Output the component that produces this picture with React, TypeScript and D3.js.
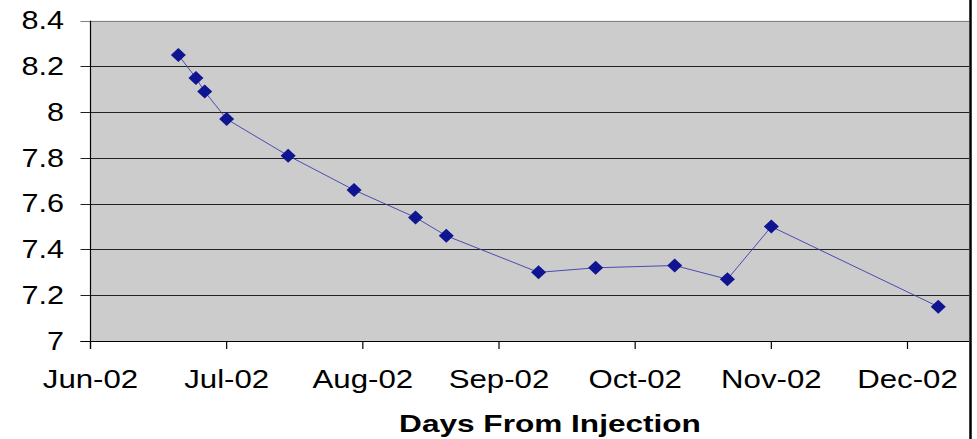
import React from "react";
import * as d3 from "d3";

const sampleDates: string[] = [
  "2002-06-21", "2002-06-25", "2002-06-27", "2002-07-02", "2002-07-16",
  "2002-07-31", "2002-08-14", "2002-08-21", "2002-09-11", "2002-09-24",
  "2002-10-12", "2002-10-24", "2002-11-03", "2002-12-11",
];
const sampleValues: number[] = [
  8.25, 8.15, 8.09, 7.97, 7.81, 7.66, 7.54, 7.46, 7.30, 7.32, 7.33, 7.27, 7.50, 7.15,
];
const yTickValues: number[] = [7, 7.2, 7.4, 7.6, 7.8, 8, 8.2, 8.4];
const yTickLabels: string[] = ["7", "7.2", "7.4", "7.6", "7.8", "8", "8.2", "8.4"];
const xDomainStart = "2002-06-01";
const xDomainEnd = "2002-12-18";
const xTickStepDays = 31;
const xTickCount = 7;
const xTitle = "Days From Injection";

const W = 977;
const H = 439;
const left = 90.5;
const right = 969;
const top = 20.7;
const bottom = 341;

export default function App() {
  const parse = d3.utcParse("%Y-%m-%d");
  const x = d3
    .scaleUtc()
    .domain([parse(xDomainStart)!, parse(xDomainEnd)!])
    .range([left, right]);
  const y = d3.scaleLinear().domain([7, 8.4]).range([bottom, top]);
  const fmt = d3.utcFormat("%b-%y");
  const start = parse(xDomainStart)!;
  const xTicks = d3.range(xTickCount).map((i) => d3.utcDay.offset(start, i * xTickStepDays));

  const pts = sampleDates.map((d, i) => ({ d: parse(d)!, v: sampleValues[i] }));
  const line = d3
    .line<{ d: Date; v: number }>()
    .x((p) => x(p.d))
    .y((p) => y(p.v));

  const font = "'Liberation Sans', Arial, sans-serif";
  const sx = 1.2;

  return (
    <svg
      width={W}
      height={H}
      style={{ position: "absolute", left: 0, top: 0, background: "#fff" }}
    >
      <rect x={left} y={top} width={right - left} height={bottom - top} fill="#cccccc" />
      {yTickValues.map((v, i) => (
        <g key={"y" + i}>
          <line
            x1={left - 10}
            x2={right}
            y1={Math.round(y(v)) + 0.5}
            y2={Math.round(y(v)) + 0.5}
            stroke={v === 8.4 ? "#808080" : "#222"}
            strokeWidth={1}
          />
          <text
            transform={`translate(${64},${y(v)}) scale(${sx},1)`}
            textAnchor="end"
            dominantBaseline="central"
            fontFamily={font}
            fontSize={25.5}
            fill="#000"
          >
            {yTickLabels[i]}
          </text>
        </g>
      ))}
      <line x1={left} x2={left} y1={top} y2={bottom + 8} stroke="#000" strokeWidth={1.2} />
      <line x1={left - 10} x2={right} y1={bottom + 0.5} y2={bottom + 0.5} stroke="#000" strokeWidth={1.2} />
      {xTicks.map((t, i) => (
        <g key={"x" + i}>
          <line x1={x(t)} x2={x(t)} y1={bottom} y2={bottom + 8} stroke="#000" strokeWidth={1.2} />
          <text
            transform={`translate(${x(t)},${387.7}) scale(${sx},1)`}
            textAnchor="middle"
            fontFamily={font}
            fontSize={26}
            fill="#000"
          >
            {fmt(t)}
          </text>
        </g>
      ))}
      <path d={line(pts) || ""} fill="none" stroke="#3c3cb0" strokeWidth={0.9} />
      {pts.map((p, i) => (
        <path
          key={"m" + i}
          transform={`translate(${x(p.d)},${y(p.v)})`}
          d="M0,-7L7.5,0L0,7L-7.5,0Z"
          fill="#0f1490"
        />
      ))}
      <text
        transform={`translate(${550},${432}) scale(1.3,1)`}
        textAnchor="middle"
        fontFamily={font}
        fontWeight="bold"
        fontSize={24.3}
        fill="#000"
      >
        {xTitle}
      </text>
      <line x1={970.5} x2={970.5} y1={0} y2={H} stroke="#000" strokeWidth={2.5} />
    </svg>
  );
}
